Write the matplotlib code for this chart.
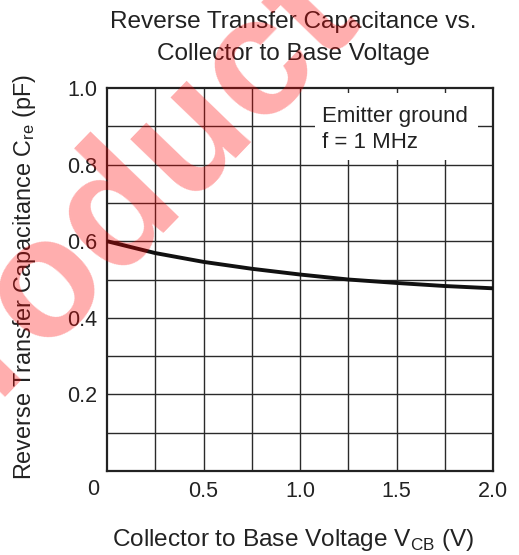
import matplotlib
matplotlib.use('Agg')
from matplotlib import pyplot as plt
from matplotlib.patches import Rectangle
import numpy as np

plt.rcParams['font.family'] = ['Liberation Sans', 'DejaVu Sans']

# curve
vcb = [0.0, 0.25, 0.5, 0.75, 1.0, 1.25, 1.5, 1.75, 2.0]
cre = [0.600, 0.569, 0.546, 0.528, 0.513, 0.500, 0.491, 0.483, 0.477]

xticks = [0.5, 1.0, 1.5, 2.0]
xticklabels = ['0.5', '1.0', '1.5', '2.0']
yticks = [0.2, 0.4, 0.6, 0.8, 1.0]
yticklabels = ['0.2', '0.4', '0.6', '0.8', '1.0']

title_lines = ['Reverse Transfer Capacitance vs.', 'Collector to Base Voltage']
note_lines = ['Emitter ground', 'f = 1 MHz']

W, H = 519, 555
INK = '#222222'

def px(x, y):
    # pixel position (from top left) -> figure fraction
    return x / W, 1 - y / H

fig = plt.figure(figsize=(W / 100, H / 100), dpi=100)
ax = fig.add_axes([107 / W, 1 - 471 / H, (493 - 107) / W, (471 - 88) / H])

ax.set_xlim(0, 2.0)
ax.set_ylim(0, 1.0)

# grid every 0.25 V and 0.1 pF
for gx in np.arange(0.25, 2.0, 0.25):
    ax.axvline(gx, color='#2a2a2a', lw=1.0, zorder=1)
for gy in np.arange(0.1, 1.0, 0.1):
    ax.axhline(gy, color='#2a2a2a', lw=1.0, zorder=1)

ax.plot(vcb, cre, color='#111111', lw=2.8, zorder=3, solid_capstyle='butt')

for s in ax.spines.values():
    s.set_linewidth(1.6)
    s.set_color(INK)

ax.set_xticks(xticks)
ax.set_xticklabels(xticklabels)
ax.set_yticks(yticks)
ax.set_yticklabels(yticklabels)
ax.tick_params(length=0, labelsize=15.5, pad=7, colors=INK)
ax.tick_params(axis='x', pad=7)
ax.annotate('0', xy=(0, 0), xycoords='axes fraction', xytext=(-10, -6),
            textcoords='offset points', ha='center', va='top', fontsize=15.5,
            color=INK)

# white patch behind the test conditions, hides the grid there
ax.add_patch(Rectangle((0.539, 0.812), 0.422, 0.175, transform=ax.transAxes,
                       fc='white', ec='none', zorder=2))
for line, y in zip(note_lines, [121.7, 148.3]):
    x0, y0 = px(322.5, y)
    fig.text(x0, y0, line, ha='left', va='baseline', fontsize=16, color=INK, zorder=4)

for line, y in zip(title_lines, [28.3, 60.0]):
    x0, y0 = px(293, y)
    fig.text(x0, y0, line, ha='center', va='baseline', fontsize=17.6, color=INK)

x0, y0 = px(293.5, 546)
fig.text(x0, y0, 'Collector to Base Voltage V$_{\\mathregular{CB}}$ (V)',
         ha='center', va='baseline', fontsize=17.6, color=INK)
x0, y0 = px(25, 277.5)
fig.text(x0, y0, 'Reverse Transfer Capacitance C$_{\\mathregular{re}}$ (pF)',
         ha='center', va='center', rotation=90, fontsize=16.8, color=INK)

# red watermark across the upper left
x0, y0 = px(-84, 478)
fig.text(x0, y0, 'Product', rotation=46, rotation_mode='anchor', fontsize=122,
         fontweight='bold', color='red', alpha=0.32, ha='left', va='baseline',
         zorder=10)

fig.savefig('out.png', dpi=100)
